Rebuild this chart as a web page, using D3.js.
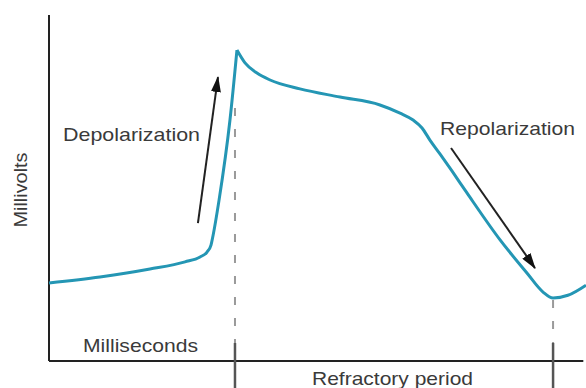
<!DOCTYPE html>
<html><head><meta charset="utf-8">
<script src="https://cdn.jsdelivr.net/npm/d3@7"></script>
<style>html,body{margin:0;padding:0;background:#fff;}</style>
</head><body>
<svg id="c" width="586" height="388"></svg>
<script>
// Time (ms) and membrane potential (mV)
const timeMs = [0,28.5,56.4,76.0,84.4,88.3,90.5,91.6,95.0,101.1,105.0,109.5,116.2,123.5,140.2,162.6,184.9,196.1,203.4,208.4,212.8,218.4,225.1,233.5,252.0,267.0,276.0,281.6,289.9,300];
const potentialMv = [-68.4,-66.0,-62.8,-59.9,-57.9,-55.9,-53.1,-49.4,-34.9,-2.5,25.8,20.6,16.5,13.7,10.1,6.8,3.6,0.3,-2.5,-5.7,-10.6,-16.2,-23.1,-32.0,-51.0,-64.4,-72.1,-74.5,-73.4,-69.3];
// Refractory period boundaries (ms) and the potential where each dashed guide starts
const refractoryMs = [103.9, 281.6];
const guideTopMv = [2.4, -75.3];
// Annotation arrows: [fromMs, fromMv, toMs, toMv]
const depolArrow = [83.2, -44.2, 94.4, 14.9];
const repolArrow = [224.6, -13.8, 271.5, -62.4];
const labels = ["Depolarization","Repolarization","Milliseconds","Refractory period","Millivolts"];

const svg = d3.select("#c");
const x = d3.scaleLinear().domain([0,300]).range([49,586]);
const y = d3.scaleLinear().domain([-100,40]).range([361,15]);
const pts = timeMs.map((t,i)=>[t,potentialMv[i]]);
const peakIdx = potentialMv.indexOf(d3.max(potentialMv));

svg.append("defs").append("marker")
  .attr("id","ah").attr("markerUnits","userSpaceOnUse")
  .attr("viewBox","0 0 16 10").attr("refX",15).attr("refY",5)
  .attr("markerWidth",16).attr("markerHeight",10).attr("orient","auto")
  .append("path").attr("d","M0,0 L16,5 L0,10 Z").attr("fill","#111");

// axes
svg.append("line").attr("x1",x(0)).attr("x2",x(0)).attr("y1",y(40)).attr("y2",y(-100))
  .attr("stroke","#222").attr("stroke-width",2);
svg.append("line").attr("x1",x(0)).attr("x2",x(298.5)).attr("y1",y(-100)).attr("y2",y(-100))
  .attr("stroke","#222").attr("stroke-width",2);

// refractory guides
refractoryMs.forEach((t,i)=>{
  svg.append("line").attr("x1",x(t)).attr("x2",x(t)).attr("y1",y(guideTopMv[i])).attr("y2",y(-100)-18)
    .attr("stroke","#9a9a9a").attr("stroke-width",2).attr("stroke-dasharray","8,13");
  svg.append("line").attr("x1",x(t)).attr("x2",x(t)).attr("y1",y(-100)-18).attr("y2",388)
    .attr("stroke","#555").attr("stroke-width",2.5);
});

// curve: rising and falling phases, joined at the sharp peak
const line = d3.line().x(d=>x(d[0])).y(d=>y(d[1])).curve(d3.curveMonotoneX);
const d1 = line(pts.slice(0, peakIdx+1));
const d2 = line(pts.slice(peakIdx)).replace(/^M[^CL]*/, "");
svg.append("path")
  .attr("d", d1 + "L" + x(pts[peakIdx][0]) + "," + y(pts[peakIdx][1]) + d2)
  .attr("fill","none").attr("stroke","#2496b4").attr("stroke-width",3).attr("stroke-linejoin","miter");

// arrows
[depolArrow, repolArrow].forEach(a=>{
  svg.append("line").attr("x1",x(a[0])).attr("y1",y(a[1])).attr("x2",x(a[2])).attr("y2",y(a[3]))
    .attr("stroke","#222").attr("stroke-width",2).attr("marker-end","url(#ah)");
});

// labels
const font = "'Liberation Sans', Arial, sans-serif";
function label(txt, px, py, len, rot){
  const t = svg.append("text").text(txt).attr("font-family",font).attr("font-size",19)
    .attr("fill","#3a3a3a").attr("textLength",len).attr("lengthAdjust","spacingAndGlyphs");
  if (rot) t.attr("text-anchor","middle").attr("transform",`translate(${px},${py}) rotate(-90)`);
  else t.attr("x",px).attr("y",py);
}
label(labels[0], 63, 141, 137);
label(labels[1], 440, 135, 135);
label(labels[2], 83, 352, 115);
label(labels[3], 312, 385, 161);
label(labels[4], 27, 190, 75, true);
</script>
</body></html>
